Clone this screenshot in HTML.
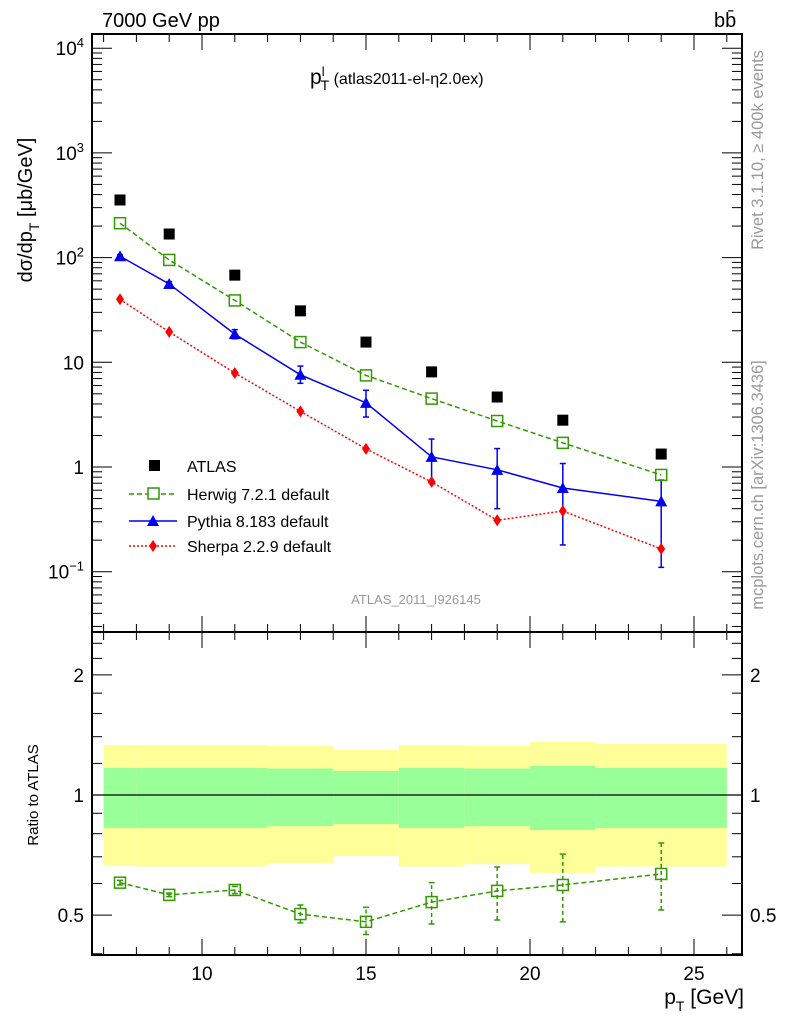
<!DOCTYPE html>
<html><head><meta charset="utf-8">
<style>
html,body{margin:0;padding:0;background:#fff;}
svg{display:block;font-family:"Liberation Sans",sans-serif;}
</style></head>
<body>
<svg id="c" width="786" height="1024" viewBox="0 0 786 1024" xmlns="http://www.w3.org/2000/svg"></svg>
<script>
const pts = [7.5, 9, 11, 13, 15, 17, 19, 21, 24];
const binEdges = [7, 8, 10, 12, 14, 16, 18, 20, 22, 26];
const atlas = [355, 168, 68, 31, 15.6, 8.1, 4.66, 2.8, 1.33];
const herwig = [213, 95, 39, 15.6, 7.5, 4.5, 2.75, 1.7, 0.84];
const pythia = [103, 56, 18.6, 7.6, 4.1, 1.25, 0.94, 0.63, 0.47];
const pythiaLo = [100, 53, 16.8, 6.3, 3.0, 0.7, 0.4, 0.18, 0.11];
const pythiaHi = [106, 59, 20.5, 9.2, 5.4, 1.85, 1.5, 1.08, 0.75];
const sherpa = [40, 19.5, 7.9, 3.4, 1.49, 0.72, 0.31, 0.38, 0.165];
const ratioH = [0.603, 0.562, 0.578, 0.503, 0.481, 0.539, 0.575, 0.595, 0.634];
const ratioLo = [0.595, 0.556, 0.566, 0.478, 0.447, 0.475, 0.486, 0.481, 0.515];
const ratioHi = [0.611, 0.568, 0.59, 0.53, 0.523, 0.603, 0.66, 0.711, 0.758];
const yelHi = [1.334, 1.334, 1.334, 1.327, 1.297, 1.334, 1.327, 1.358, 1.342];
const yelLo = [0.664, 0.662, 0.662, 0.675, 0.703, 0.662, 0.671, 0.638, 0.662];
const grnHi = [1.169, 1.169, 1.169, 1.165, 1.149, 1.169, 1.165, 1.182, 1.169];
const grnLo = [0.827, 0.827, 0.827, 0.836, 0.846, 0.827, 0.836, 0.817, 0.827];
const xTicks = [10, 15, 20, 25];

const svg = document.getElementById('c');
const NS = 'http://www.w3.org/2000/svg';
const L = 92, R = 742, T = 34, M = 632, B = 955;
const X = v => 202 + (v - 10) * 32.8;
const Y = v => 467 - Math.log10(v) * 104.7;
const YR = v => 795 - Math.log10(v) * 399;
function mk(tag, at, parent) {
  const e = document.createElementNS(NS, tag);
  for (const k in at) e.setAttribute(k, at[k]);
  (parent || svg).appendChild(e);
  return e;
}
function txt(s, at) { const e = mk('text', at); e.textContent = s; return e; }

// ratio bands
for (let i = 0; i < pts.length; i++) {
  const y = mk('rect', {x: X(binEdges[i]), y: YR(yelHi[i]), width: X(binEdges[i+1]) - X(binEdges[i]), height: YR(yelLo[i]) - YR(yelHi[i]), fill: '#ffff99'});
  
  
  const g = mk('rect', {x: X(binEdges[i]), y: YR(grnHi[i]), width: X(binEdges[i+1]) - X(binEdges[i]), height: YR(grnLo[i]) - YR(grnHi[i]), fill: '#99ff99'});
  
  
}
mk('line', {x1: L, x2: R, y1: YR(1), y2: YR(1), stroke: '#000', 'stroke-width': 1.2});

// frames
const f1 = mk('rect', {x: L, y: T, width: R - L, height: M - T, fill: 'none', stroke: '#000', 'stroke-width': 2});
 
const f2 = mk('rect', {x: L, y: M, width: R - L, height: B - M, fill: 'none', stroke: '#000', 'stroke-width': 2});
 

// x ticks
for (let v = 7; v <= 26; v++) {
  const big = v % 5 === 0, len = big ? 16 : 8;
  for (const [y0, dir] of [[T, 1], [M, -1], [M, 1], [B, -1]]) {
    mk('line', {x1: X(v), x2: X(v), y1: y0, y2: y0 + dir * len, stroke: '#000', 'stroke-width': 1});
  }
}
xTicks.forEach(v => {
  const t = txt(String(v), {x: X(v), y: 980, 'font-size': 19, 'text-anchor': 'middle'});
   
});

// main y ticks (log)
for (let d = -2; d <= 4; d++) {
  for (let m = 1; m < 10; m++) {
    const v = m * Math.pow(10, d), y = Y(v);
    if (y < T || y > M) continue;
    const len = m === 1 ? 20 : 10;
    mk('line', {x1: L, x2: L + len, y1: y, y2: y, stroke: '#000'});
    mk('line', {x1: R, x2: R - len, y1: y, y2: y, stroke: '#000'});
  }
}
const ylabs = [[4, '10', '4'], [3, '10', '3'], [2, '10', '2'], [1, '10', ''], [0, '1', ''], [-1, '10', '−1']];
ylabs.forEach(([d, b, e]) => {
  const t = mk('text', {x: 84, y: Y(Math.pow(10, d)) + 7, 'font-size': 19, 'text-anchor': 'end'});
   
  t.textContent = b;
  if (e) { const s = mk('tspan', {dy: -8, 'font-size': 13}, t); s.textContent = e; }
});

// ratio y ticks
const rt = [0.4, 0.5, 0.6, 0.7, 0.8, 0.9, 1, 1.2, 1.4, 1.6, 1.8, 2, 2.2, 2.4];
rt.forEach(v => {
  const y = YR(v); if (y < M || y > B) return;
  const big = (v === 0.5 || v === 1 || v === 2), len = big ? 20 : 10;
  mk('line', {x1: L, x2: L + len, y1: y, y2: y, stroke: '#000'});
  mk('line', {x1: R, x2: R - len, y1: y, y2: y, stroke: '#000'});
});
[[2, '2'], [1, '1'], [0.5, '0.5']].forEach(([v, s]) => {
  const a = txt(s, {x: 84, y: YR(v) + 7, 'font-size': 19, 'text-anchor': 'end'});
   
  const b = txt(s, {x: 750, y: YR(v) + 7, 'font-size': 19});
   
});

// series
function line(vals, color, dash, yf) {
  return mk('polyline', {points: pts.map((x, i) => X(x) + ',' + yf(vals[i])).join(' '), fill: 'none', stroke: color, 'stroke-width': 1.5, 'stroke-dasharray': dash});
}
function errbar(i, lo, hi, color, yf, dash) {
  mk('line', {x1: X(pts[i]), x2: X(pts[i]), y1: yf(lo), y2: yf(hi), stroke: color, 'stroke-width': 1.5, 'stroke-dasharray': dash || ''});
  mk('line', {x1: X(pts[i]) - 3, x2: X(pts[i]) + 3, y1: yf(lo), y2: yf(lo), stroke: color, 'stroke-width': 1.5});
  mk('line', {x1: X(pts[i]) - 3, x2: X(pts[i]) + 3, y1: yf(hi), y2: yf(hi), stroke: color, 'stroke-width': 1.5});
}
const hl = line(herwig, '#339900', '5,3', Y);
 
const pl = line(pythia, '#0000ee', '', Y);
 
const sl = line(sherpa, '#ff0000', '2,2', Y);
 
pts.forEach((x, i) => {
  errbar(i, pythiaLo[i], pythiaHi[i], '#0000ee', Y);
  const a = mk('rect', {x: X(x) - 5.5, y: Y(atlas[i]) - 5.5, width: 11, height: 11, fill: '#000'});
   
  const h = mk('rect', {x: X(x) - 5.5, y: Y(herwig[i]) - 5.5, width: 11, height: 11, fill: 'none', stroke: '#339900', 'stroke-width': 1.5});
   
  const cx = X(x), cy = Y(pythia[i]);
  const p = mk('polygon', {points: `${cx},${cy-6} ${cx+6},${cy+5} ${cx-6},${cy+5}`, fill: '#0000ee'});
   
  const sy = Y(sherpa[i]);
  const s = mk('polygon', {points: `${cx},${sy-6} ${cx+4},${sy} ${cx},${sy+6} ${cx-4},${sy}`, fill: '#ff0000'});
   
});
// ratio herwig
const rl = line(ratioH, '#339900', '5,3', YR);
 
pts.forEach((x, i) => {
  errbar(i, ratioLo[i], ratioHi[i], '#339900', YR, '4,3');
  const h = mk('rect', {x: X(x) - 5.5, y: YR(ratioH[i]) - 5.5, width: 11, height: 11, fill: 'none', stroke: '#339900', 'stroke-width': 1.5});
   
});

// legend
const lg = [[466, 'ATLAS'], [494, 'Herwig 7.2.1 default'], [521, 'Pythia 8.183 default'], [546, 'Sherpa 2.2.9 default']];
lg.forEach(([y, s]) => {
  const t = txt(s, {x: 187, y: y + 6, 'font-size': 16});
   
});
mk('rect', {x: 149, y: 460, width: 11, height: 11, fill: '#000'});
mk('line', {x1: 129, x2: 175, y1: 494, y2: 494, stroke: '#339900', 'stroke-width': 1.5, 'stroke-dasharray': '5,3'});
mk('rect', {x: 148, y: 488, width: 11, height: 11, fill: '#fff', stroke: '#339900', 'stroke-width': 1.5});
mk('line', {x1: 129, x2: 177, y1: 521, y2: 521, stroke: '#0000ee', 'stroke-width': 1.5});
mk('polygon', {points: '153,515 159,526 147,526', fill: '#0000ee'});
mk('line', {x1: 129, x2: 177, y1: 546, y2: 546, stroke: '#ff0000', 'stroke-width': 1.5, 'stroke-dasharray': '2,2'});
mk('polygon', {points: '153,540 157,546 153,552 149,546', fill: '#ff0000'});

// texts
const t1 = txt('7000 GeV pp', {x: 102, y: 27, 'font-size': 20});  
const t2 = txt('bb̄', {x: 714, y: 27, 'font-size': 20});  
const ti = mk('text', {x: 310, y: 84, 'font-size': 21});  
ti.innerHTML = 'p<tspan dy="-8" font-size="13">l</tspan><tspan dy="14" dx="-4" font-size="14">T</tspan><tspan dy="-6" font-size="16"> (atlas2011-el-η2.0ex)</tspan>';
const yt = mk('text', {transform: 'translate(32,210) rotate(-90)', 'font-size': 20, 'text-anchor': 'middle'});  
yt.innerHTML = 'dσ/dp<tspan dy="7" font-size="14">T</tspan><tspan dy="-7"> [μb/GeV]</tspan>';
const rtt = txt('Ratio to ATLAS', {transform: 'translate(38,795) rotate(-90)', 'font-size': 15, 'text-anchor': 'middle'});  
const xt = mk('text', {x: 744, y: 1004, 'font-size': 21, 'text-anchor': 'end'});  
xt.innerHTML = 'p<tspan dy="7" font-size="14">T</tspan><tspan dy="-7"> [GeV]</tspan>';
const an = txt('ATLAS_2011_I926145', {x: 416, y: 604, 'font-size': 13, fill: '#999', 'text-anchor': 'middle'});  
const rv = txt('Rivet 3.1.10, ≥ 400k events', {transform: 'translate(763,150) rotate(-90)', 'font-size': 16.5, fill: '#999', 'text-anchor': 'middle'});  
const mc = txt('mcplots.cern.ch [arXiv:1306.3436]', {transform: 'translate(763,485) rotate(-90)', 'font-size': 16.5, fill: '#999', 'text-anchor': 'middle'});  
</script>
</body></html>
